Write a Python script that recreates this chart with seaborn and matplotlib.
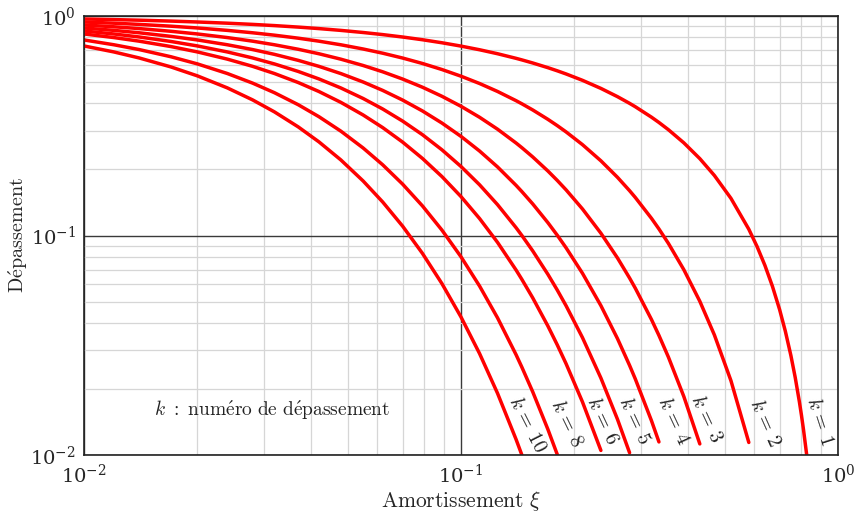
import matplotlib
matplotlib.use("Agg")
import matplotlib.pyplot as plt
import pandas as pd
import seaborn as sns
from matplotlib.ticker import LogLocator, LogFormatterMathtext, NullFormatter

# valeurs : dépassement D_k en fonction de l'amortissement xi
k_values = [1, 2, 3, 4, 5, 6, 8, 10]

xi_grid = [0.01, 0.012, 0.014, 0.017, 0.02, 0.024, 0.028, 0.032, 0.037, 0.042, 0.048,
           0.055, 0.062, 0.07, 0.079, 0.089, 0.1, 0.112, 0.125, 0.14, 0.145, 0.155,
           0.17, 0.18, 0.19, 0.21, 0.235, 0.26, 0.28, 0.29, 0.32, 0.335, 0.355, 0.39,
           0.43, 0.47, 0.52, 0.58, 0.61, 0.64, 0.67, 0.7, 0.725, 0.75, 0.77, 0.79, 0.8,
           0.81, 0.826]

d_k1 = [0.969071, 0.963000, 0.956967, 0.947987, 0.939090, 0.927354, 0.915762, 0.904310,
        0.890191, 0.876285, 0.859873, 0.841096, 0.822708, 0.802156, 0.779608, 0.755243,
        0.729247, 0.701815, 0.673139, 0.641339, 0.631033, 0.610850, 0.581608, 0.562774,
        0.544450, 0.509268, 0.467879, 0.429168, 0.399997, 0.385980, 0.346073, 0.327268,
        0.303319, 0.264323, 0.223961, 0.187715, 0.147706, 0.106801, 0.089061, 0.073043,
        0.058697, 0.045988, 0.036628, 0.028377, 0.022566, 0.017457, 0.015165, 0.013046,
        0.010012]

d_k2 = [0.939099, 0.927369, 0.915786, 0.898679, 0.881890, 0.859985, 0.838620, 0.817776,
        0.792440, 0.767875, 0.739382, 0.707442, 0.676848, 0.643454, 0.607788, 0.570392,
        0.531801, 0.492544, 0.453116, 0.411316, 0.398203, 0.373138, 0.338268, 0.316715,
        0.296426, 0.259354, 0.218911, 0.184185, 0.159998, 0.148981, 0.119767, 0.107104,
        0.092002, 0.069867, 0.050159, 0.035237, 0.021817, 0.011406]

d_k3 = [0.910054, 0.893056, 0.876377, 0.851936, 0.828174, 0.797511, 0.767977, 0.739523,
        0.705423, 0.672877, 0.635775, 0.595026, 0.556849, 0.516150, 0.473836, 0.430785,
        0.387814, 0.345675, 0.305010, 0.263793, 0.251279, 0.227931, 0.196739, 0.178239,
        0.161389, 0.132081, 0.102424, 0.079047, 0.063999, 0.057504, 0.041448, 0.035052,
        0.027906, 0.018467, 0.011234]

d_k4 = [0.881907, 0.860013, 0.838664, 0.807624, 0.777730, 0.739574, 0.703283, 0.668758,
        0.627961, 0.589632, 0.546686, 0.500474, 0.458123, 0.414033, 0.369406, 0.325347,
        0.282812, 0.242600, 0.205314, 0.169181, 0.158566, 0.139232, 0.114425, 0.100308,
        0.087868, 0.067264, 0.047922, 0.033924, 0.025599, 0.022195, 0.014344, 0.011471]

d_k5 = [0.854631, 0.828193, 0.802574, 0.765617, 0.730358, 0.685847, 0.644040, 0.604765,
        0.559005, 0.516686, 0.470080, 0.420947, 0.376902, 0.332119, 0.287992, 0.245716,
        0.206240, 0.170260, 0.138204, 0.108503, 0.100061, 0.085050, 0.066551, 0.056451,
        0.047840, 0.034255, 0.022422, 0.014559, 0.010240]

d_k6 = [0.828198, 0.797549, 0.768037, 0.725795, 0.685872, 0.636024, 0.589789, 0.546894,
        0.497622, 0.452763, 0.404210, 0.354056, 0.310081, 0.266411, 0.224521, 0.185576,
        0.150400, 0.119491, 0.093031, 0.069587, 0.063141, 0.051953, 0.038706, 0.031769,
        0.026046, 0.017445, 0.010491]

d_k8 = [0.777760, 0.739622, 0.703357, 0.652257, 0.604864, 0.546970, 0.494607, 0.447237,
        0.394335, 0.347666, 0.298866, 0.250474, 0.209877, 0.171423, 0.136461, 0.105851,
        0.079983, 0.058855, 0.042154, 0.028622, 0.025143, 0.019386, 0.013093, 0.010062]

d_k10 = [0.730394, 0.685904, 0.644125, 0.586169, 0.533423, 0.470386, 0.414788, 0.365741,
         0.312487, 0.266964, 0.220975, 0.177196, 0.142055, 0.110303, 0.082939, 0.060376,
         0.042535, 0.028988, 0.019100, 0.011773, 0.010012]

curves = {1: d_k1, 2: d_k2, 3: d_k3, 4: d_k4, 5: d_k5, 6: d_k6, 8: d_k8, 10: d_k10}

# étiquettes "k = ..." près de la fin de chaque courbe
label_xi = [0.896, 0.640, 0.449, 0.365, 0.289, 0.237, 0.191, 0.150]
label_d = [0.0143, 0.0140, 0.0146, 0.0143, 0.0143, 0.0143, 0.0140, 0.0138]
label_rot = [-72, -66, -65, -65, -65, -65, -64, -63]

rows = []
for k, ds in curves.items():
    for x, d in zip(xi_grid, ds):
        rows.append({"k": k, "xi": x, "D": d})
df = pd.DataFrame(rows)

sns.set_theme(style="white")
plt.rcParams["mathtext.fontset"] = "cm"
plt.rcParams["font.family"] = ["DejaVu Serif"]

fig = plt.figure(figsize=(8.56, 5.18), dpi=100)
ax = fig.add_axes([84 / 856, 1 - 455 / 518, 754 / 856, 439 / 518])

sns.lineplot(data=df, x="xi", y="D", hue="k", units="k", estimator=None, sort=False,
             palette=["#ff0000"] * len(k_values), linewidth=2.5, legend=False, ax=ax)

ax.set_xscale("log")
ax.set_yscale("log")
ax.set_xlim(0.01, 1)
ax.set_ylim(0.01, 1)

for axis in (ax.xaxis, ax.yaxis):
    axis.set_major_locator(LogLocator(base=10, numticks=10))
    axis.set_minor_locator(LogLocator(base=10, subs=range(2, 10), numticks=10))
    axis.set_major_formatter(LogFormatterMathtext())
    axis.set_minor_formatter(NullFormatter())

ax.grid(which="minor", color="#d6d6d6", linewidth=0.9)
ax.grid(which="major", color="#3a3a3a", linewidth=1.0)
ax.set_axisbelow(True)
ax.tick_params(which="both", length=0, labelsize=14, pad=6)
for s in ax.spines.values():
    s.set_color("#222222")
    s.set_linewidth(1.2)

ax.set_xlabel(r"$\mathrm{Amortissement}\ \xi$", fontsize=15.5)
ax.set_ylabel(r"$\mathrm{D\acute{e}passement}$", fontsize=14.5)
ax.xaxis.set_label_coords(0.5, -0.078)
ax.yaxis.set_label_coords(-0.072, 0.5)

for k, x, y, r in zip(k_values, label_xi, label_d, label_rot):
    ax.text(x, y, r"$k\,=\,%d$" % k, rotation=r, rotation_mode="anchor",
            ha="center", va="center", fontsize=14.5, color="#222222")

ax.text(0.249, 0.1025, r"$k\ :\ \mathrm{num\acute{e}ro\ de\ d\acute{e}passement}$",
        transform=ax.transAxes, ha="center", va="center", fontsize=14, color="#222222")

fig.savefig("out.png", dpi=100)
